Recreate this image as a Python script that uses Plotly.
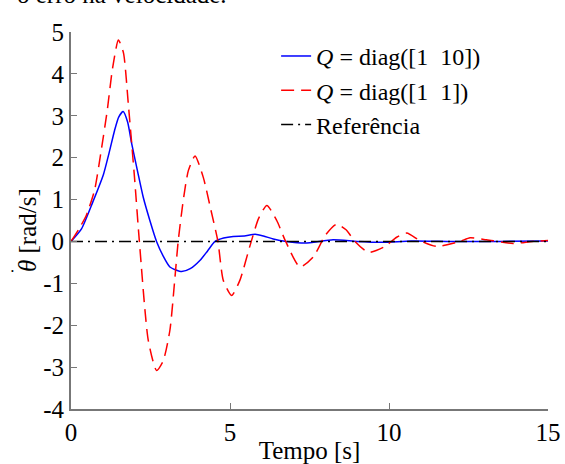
import plotly.graph_objects as go

# Q = diag([1 10]) response
t_blue = [0, 0.33, 0.69, 1.02, 1.2, 1.37, 1.5, 1.64, 1.78, 1.91, 2.1, 2.27, 2.48, 2.69, 2.9,
          3.11, 3.3, 3.48, 3.75, 4.06, 4.3, 4.53, 4.8, 5.1, 5.45, 5.79, 6.05, 6.36, 6.78, 7.36,
          8.24, 9.0, 9.8, 10.7, 12.0, 13.5, 15.0]
y_blue = [0, 0.30, 0.95, 1.60, 2.12, 2.65, 2.97, 3.10, 2.85, 2.33, 1.65, 1.06, 0.5, 0.0, -0.35,
          -0.61, -0.68, -0.72, -0.65, -0.45, -0.22, 0.0, 0.08, 0.12, 0.13, 0.17, 0.13, 0.06, 0.0, -0.04,
          0.04, 0.0, -0.02, 0.01, 0.0, 0.0, 0.01]

# Q = diag([1 1]) response
t_red = [0, 0.25, 0.48, 0.74, 0.95, 1.14, 1.3, 1.49, 1.65, 1.80, 2.0, 2.15, 2.43, 2.69, 2.9, 3.11,
         3.27, 3.37, 3.53, 3.69, 3.90, 4.16, 4.4, 4.62, 4.79, 5.05, 5.31, 5.63, 5.9, 6.16, 6.47,
         6.75, 7.2, 7.62, 8.0, 8.35, 8.65, 8.93, 9.35, 9.87, 10.24, 10.56, 10.97, 11.5, 12.23,
         12.55, 13.07, 13.9, 14.5, 15.0]
y_red = [0, 0.3, 0.62, 1.22, 2.17, 3.13, 4.1, 4.81, 4.5, 3.3, 1.5, 0.0, -2.36, -3.08, -2.85, -2.12,
         -0.85, 0.0, 0.98, 1.69, 2.04, 1.53, 0.75, 0.0, -0.93, -1.29, -0.93, -0.1, 0.55, 0.86, 0.5,
         0.0, -0.61, -0.37, 0.15, 0.41, 0.28, 0.0, -0.26, -0.12, 0.1, 0.2, 0.02, -0.12, 0.0,
         0.09, 0.04, -0.05, 0.0, 0.02]

t_ref = [0, 15]
y_ref = [0, 0]

x_ticks = [0, 5, 10, 15]
y_ticks = [5, 4, 3, 2, 1, 0, -1, -2, -3, -4]
y_ticklabels = ["5", "4", "3", "2", "1", "0", "-1", "-2", "-3", "-4"]

FONT = "Liberation Serif"

fig = go.Figure()
fig.add_trace(go.Scatter(x=t_blue, y=y_blue, mode="lines",
                         line=dict(color="#0000ff", width=1.5, shape="spline", smoothing=0.6),
                         name="<i>Q</i> = diag([1  10])"))
fig.add_trace(go.Scatter(x=t_red, y=y_red, mode="lines",
                         line=dict(color="#ff0000", width=1.5, dash="13px,7px", shape="spline", smoothing=0.6),
                         name="<i>Q</i> = diag([1  1])"))
fig.add_trace(go.Scatter(x=t_ref, y=y_ref, mode="lines",
                         line=dict(color="#000000", width=1.5, dash="12px,5px,2px,5px"),
                         name="Referência"))

fig.update_layout(
    width=565, height=464,
    margin=dict(l=71, r=17, t=32, b=55, autoexpand=False),
    paper_bgcolor="white", plot_bgcolor="white",
    font=dict(family=FONT, size=25, color="black"),
    showlegend=True,
    legend=dict(x=0.43, y=0.995, xanchor="left", yanchor="top", bgcolor="rgba(0,0,0,0)",
                font=dict(family=FONT, size=24), tracegroupgap=0, itemwidth=30),
    xaxis=dict(range=[0, 15], tickvals=x_ticks, ticks="inside", ticklen=6, tickcolor="#777",
               showline=True, linecolor="#777", linewidth=2, showgrid=False, zeroline=False,
               automargin=False, tickfont=dict(size=25),
               title=dict(text="Tempo [s]", standoff=0, font=dict(size=25))),
    yaxis=dict(range=[-4, 5], tickvals=y_ticks, ticktext=y_ticklabels, ticks="inside", ticklen=6,
               tickcolor="#777", showline=True, linecolor="#777", linewidth=2, showgrid=False,
               zeroline=False, automargin=False, tickfont=dict(size=25)),
    annotations=[
        dict(text="o erro na velocidade.", xref="paper", yref="paper", x=-0.118, y=1.058,
             xanchor="left", yanchor="bottom", showarrow=False, font=dict(family=FONT, size=25)),
        dict(text="<i>θ</i> [rad/s]", xref="paper", yref="paper", x=-0.090, y=0.475,
             xanchor="center", yanchor="middle", textangle=-90, showarrow=False,
             font=dict(family=FONT, size=25)),
        dict(text="•", xref="paper", yref="paper", x=-0.1216, y=0.365,
             xanchor="center", yanchor="middle", showarrow=False, font=dict(family=FONT, size=8)),
    ],
)

fig.write_html("out.html", config={"displayModeBar": False},
               post_script="document.body.style.margin='0px';")
